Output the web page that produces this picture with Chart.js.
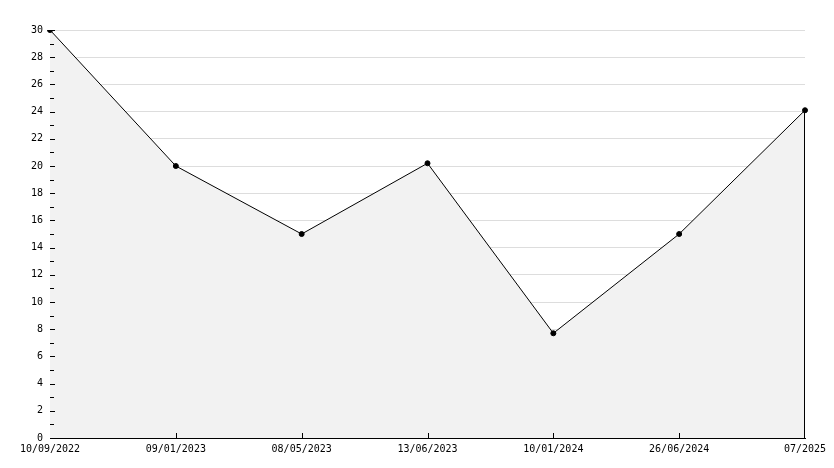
<!DOCTYPE html>
<html>
<head>
<meta charset="utf-8">
<script src="https://cdn.jsdelivr.net/npm/chart.js@4"></script>
<style>
  html, body { margin: 0; padding: 0; background: #fff; }
  #wrap { width: 834px; height: 468px; }
</style>
</head>
<body>
<div id="wrap"><canvas id="lineChart"></canvas></div>
<script>
// data
const dates = ["10/09/2022", "09/01/2023", "08/05/2023", "13/06/2023", "10/01/2024", "26/06/2024", "07/2025"];
const values = [30, 20, 15, 20.2, 7.7, 15, 24.1];
const yMin = 0;
const yMax = 30;

// tick marks drawn inside the plot, plus the black right edge of the fill
const axisMarks = {
  id: "axisMarks",
  afterDatasetsDraw(chart) {
    const ctx = chart.ctx;
    const x = chart.scales.x;
    const y = chart.scales.y;
    const area = chart.chartArea;
    ctx.save();
    ctx.strokeStyle = "#000";
    ctx.lineWidth = 1;
    ctx.beginPath();
    for (let v = yMin; v <= yMax; v++) {
      const py = Math.round(y.getPixelForValue(v)) + 0.5;
      const len = v % 2 === 0 ? 5 : 4;
      ctx.moveTo(area.left, py);
      ctx.lineTo(area.left + len, py);
    }
    for (let i = 1; i < dates.length - 1; i++) {
      const px = Math.round(x.getPixelForValue(i)) + 0.5;
      ctx.moveTo(px, area.bottom);
      ctx.lineTo(px, area.bottom - 5);
    }
    const last = chart.getDatasetMeta(0).data[values.length - 1];
    const lx = Math.round(last.x) - 0.5;
    ctx.moveTo(lx, last.y);
    ctx.lineTo(lx, area.bottom);
    ctx.stroke();
    ctx.restore();
  }
};

const ctx = document.getElementById("lineChart");

new Chart(ctx, {
  type: "line",
  data: {
    labels: dates,
    datasets: [{
      data: values,
      borderColor: "#000",
      borderWidth: 1,
      backgroundColor: "#f2f2f2",
      fill: "origin",
      tension: 0,
      pointStyle: "circle",
      pointRadius: 2.5,
      pointBackgroundColor: "#000",
      pointBorderColor: "#000",
      pointBorderWidth: 1
    }]
  },
  options: {
    responsive: true,
    maintainAspectRatio: false,
    animation: false,
    layout: { padding: { top: 30, right: 29, left: 0, bottom: 0 } },
    plugins: {
      legend: { display: false },
      tooltip: { enabled: false }
    },
    scales: {
      x: {
        type: "category",
        offset: false,
        grid: { display: false, drawTicks: false },
        border: { display: true, color: "#000", width: 1 },
        ticks: {
          color: "#000",
          font: { family: "DejaVu Sans Mono", size: 10 },
          padding: 5,
          maxRotation: 0,
          autoSkip: false
        },
        afterFit(scale) { scale.height = 30; }
      },
      y: {
        min: yMin,
        max: yMax,
        grid: {
          drawTicks: false,
          color: (c) => (c.tick && c.tick.value % 2 === 0 ? "#dddddd" : "rgba(0,0,0,0)"),
          lineWidth: 1
        },
        border: { display: true, color: "#000", width: 1 },
        ticks: {
          stepSize: 1,
          color: "#000",
          font: { family: "DejaVu Sans Mono", size: 10 },
          padding: 7,
          callback: (v) => (v % 2 === 0 ? v : "")
        },
        afterFit(scale) { scale.width = 50; }
      }
    }
  },
  plugins: [axisMarks]
});
</script>
</body>
</html>
